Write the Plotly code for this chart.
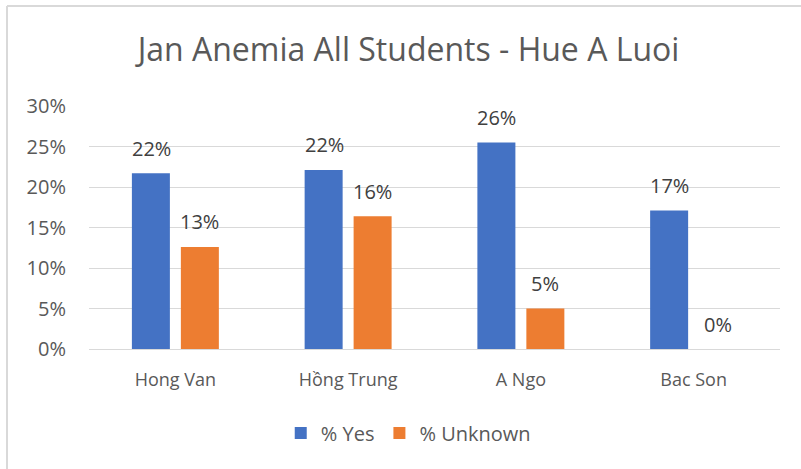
import plotly.graph_objects as go

categories = ["Hong Van", "Hồng Trung", "A Ngo", "Bac Son"]
yes_vals = [0.217, 0.221, 0.255, 0.171]
unknown_vals = [0.126, 0.164, 0.050, 0.0]
series_names = ["% Yes", "% Unknown"]
y_ticks = [0, 0.05, 0.10, 0.15, 0.20, 0.25, 0.30]

BLUE = "#4472C4"
ORANGE = "#ED7D31"
FONT = "Open Sans"

fig = go.Figure()
fig.add_trace(go.Bar(x=categories, y=yes_vals, name=series_names[0],
                     marker=dict(color=BLUE, line=dict(width=0))))
fig.add_trace(go.Bar(x=categories, y=unknown_vals, name=series_names[1],
                     marker=dict(color=ORANGE, line=dict(width=0))))

annotations = []
for vals, shift in ((yes_vals, -24), (unknown_vals, 24)):
    for c, v in zip(categories, vals):
        annotations.append(dict(x=c, y=v, xref="x", yref="y", text=f"{round(v*100)}%",
                                showarrow=False, xshift=shift, yshift=25, yanchor="middle",
                                font=dict(family=FONT, size=20, color="#404040")))

fig.update_layout(
    width=801, height=469,
    margin=dict(l=89, r=21, t=106, b=120),
    paper_bgcolor="white", plot_bgcolor="white",
    title=dict(text="Jan Anemia All Students - Hue A Luoi", x=0.51, xanchor="center",
               y=1 - 50/469, yanchor="middle",
               font=dict(family=FONT, size=32, color="#595959")),
    barmode="group", bargap=0.433, bargroupgap=0.224,
    showlegend=True,
    legend=dict(orientation="h", x=0.462, xanchor="center", y=-0.346, yanchor="middle",
                font=dict(family=FONT, size=20, color="#595959"), itemwidth=30,
                traceorder="normal"),
    annotations=annotations,
    xaxis=dict(showgrid=False, showline=False, ticks="", ticklabelstandoff=18,
               tickfont=dict(family=FONT, size=18, color="#595959")),
    yaxis=dict(range=[0, 0.3], tickvals=y_ticks, tickformat=".0%", showgrid=True,
               gridcolor="#D9D9D9", gridwidth=1, zeroline=True, zerolinecolor="#D9D9D9",
               zerolinewidth=1, showline=False, ticks="", ticklabelstandoff=22,
               tickfont=dict(family=FONT, size=20, color="#595959")),
    shapes=[dict(type="line", xref="paper", yref="paper", x0=(7-89)/691, x1=(7-89)/691,
                 y0=-0.6, y1=(349-6)/243, line=dict(color="#D9D9D9", width=2)),
            dict(type="line", xref="paper", yref="paper", x0=(7-89)/691, x1=1.1,
                 y0=(349-6)/243, y1=(349-6)/243, line=dict(color="#D9D9D9", width=2))],
)

fig.write_html("out.html", config={"displayModeBar": False},
               post_script="document.body.style.margin='0';document.body.style.padding='0';")
